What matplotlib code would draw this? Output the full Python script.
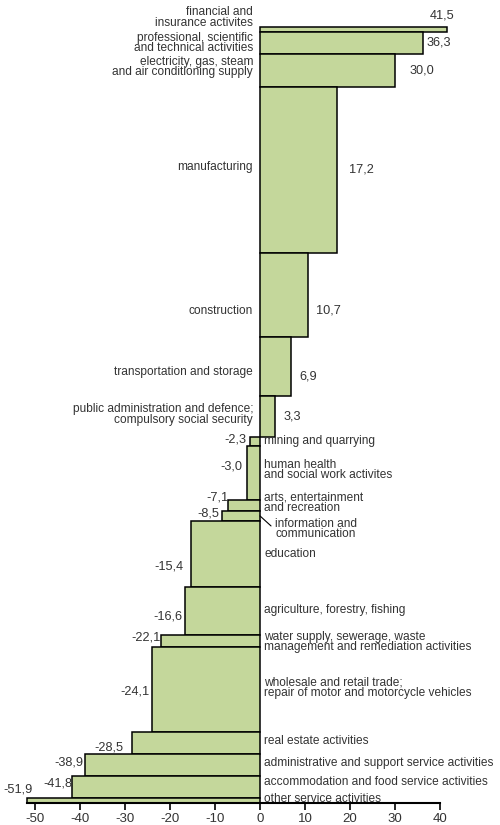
import numpy as np
from matplotlib import pyplot as plt

plt.rcParams['font.family'] = ['Liberation Sans', 'DejaVu Sans']

# =============================================================================
# Data (top to bottom)
# =============================================================================
sectors = ['financial and\ninsurance activites',
           'professional, scientific\nand technical activities',
           'electricity, gas, steam\nand air conditioning supply',
           'manufacturing',
           'construction',
           'transportation and storage',
           'public administration and defence;\ncompulsory social security',
           'mining and quarrying',
           'human health\nand social work activites',
           'arts, entertainment\nand recreation',
           'information and\ncommunication',
           'education',
           'agriculture, forestry, fishing',
           'water supply, sewerage, waste\nmanagement and remediation activities',
           'wholesale and retail trade;\nrepair of motor and motorcycle vehicles',
           'real estate activities',
           'administrative and support service activities',
           'accommodation and food service activities',
           'other service activities']
change = [41.5, 36.3, 30.0, 17.2, 10.7, 6.9, 3.3, -2.3, -3.0, -7.1, -8.5,
          -15.4, -16.6, -22.1, -24.1, -28.5, -38.9, -41.8, -51.9]
share = [0.6, 2.8, 4.3, 21.4, 10.8, 7.7, 5.2, 1.2, 6.9, 1.4, 1.4,
         8.4, 6.2, 1.6, 11.0, 2.8, 2.8, 2.8, 0.7]
xticks = [-50, -40, -30, -20, -10, 0, 10, 20, 30, 40]

# label nudges in pixels (dx, dy up)
val_off = [(-17, 14.5), (3, 0), (15, -0.5), (12, 0), (8, -16), (8, -10),
           (9, 0), (-3, 2), (-4, 6), (0, 8), (-2, 2.5), (-7, -12.5),
           (-3, -6), (0, 3.5), (-2, -2), (-8, -4), (-2, 2), (0, 3.5),
           (6.5, 11)]
cat_dy = [12, 0, 3.5, 3, -16, -5, 2, 0, 3, 2, -13, 0, 1, -1, 2, 2, 2, 4.5, 1]

# =============================================================================
# Plot
# =============================================================================
share = np.array(share)
tops = 100 - np.concatenate([[0], np.cumsum(share)[:-1]])
centers = tops - share / 2

fig = plt.figure(figsize=[5, 8.25], dpi=100)
ax = fig.add_axes([0.053, 0.0267, 0.827, 0.9403])
bars = ax.barh(centers, change, height=share, color='#c4d79b',
               edgecolor='black', linewidth=1.1)
for b in bars:
    b.set_clip_on(False)

for i, name in enumerate(sectors):
    v = change[i]
    # value label
    dx, dy = val_off[i]
    ha = 'left' if v > 0 else 'right'
    ax.annotate(('%.1f' % v).replace('.', ','), xy=(v, centers[i]),
                xytext=(dx, dy), textcoords='offset pixels', ha=ha,
                va='center', fontsize=9.2, color='#333333',
                annotation_clip=False)
    # category label
    if v > 0:
        cx, cha = -7, 'right'
    elif i == 10:
        cx, cha = 15, 'left'
    else:
        cx, cha = 4, 'left'
    ax.annotate(name, xy=(0, centers[i]), xytext=(cx, cat_dy[i]),
                textcoords='offset pixels', ha=cha, va='center',
                fontsize=8.6, color='#333333', linespacing=0.82,
                annotation_clip=False)

# leader line for information and communication
ax.annotate('', xy=(0, centers[10]), xytext=(11, -10),
            textcoords='offset pixels',
            arrowprops=dict(arrowstyle='-', color='black', lw=0.8,
                            shrinkA=0, shrinkB=0))

ax.set_xlim(-51.9, 40)
ax.set_ylim(0, 100)
ax.set_xticks(xticks)
ax.set_xticklabels([str(t) for t in xticks], fontsize=9.5, color='#333333')
ax.set_yticks([])
for s in ['top', 'right', 'left']:
    ax.spines[s].set_visible(False)
ax.spines['bottom'].set_linewidth(1.5)
ax.tick_params(axis='x', direction='out', length=5, width=1.2, pad=2)

plt.savefig('out.png')
